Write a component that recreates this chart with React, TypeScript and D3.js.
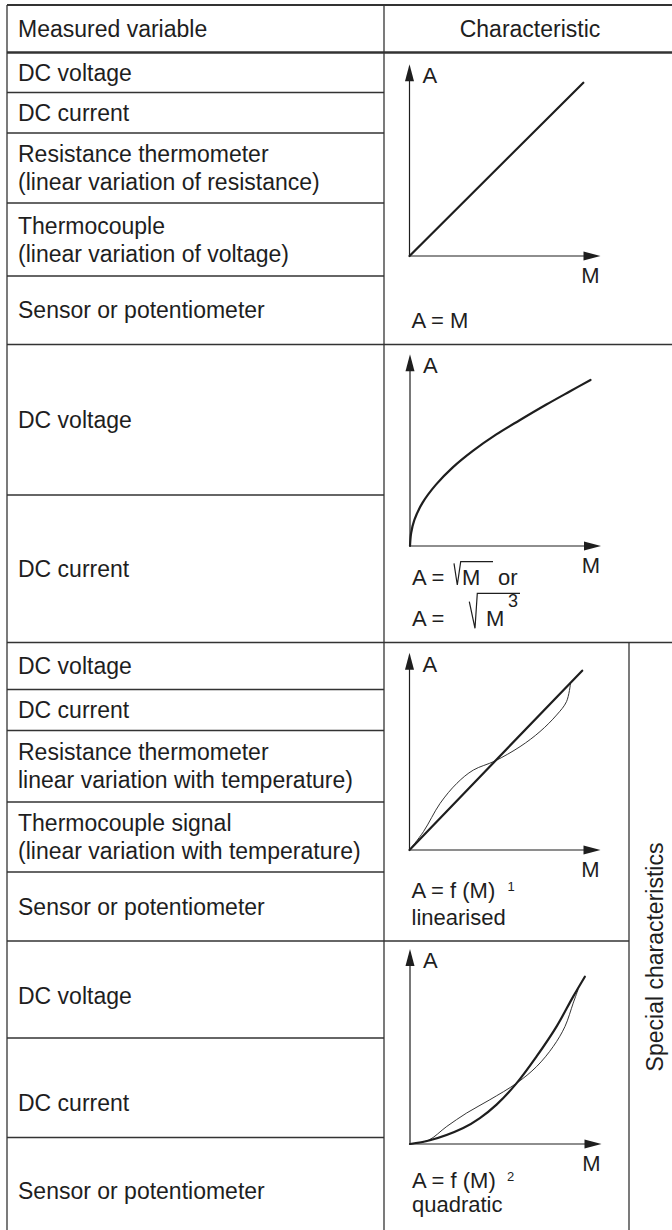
import React from 'react';
import * as d3 from 'd3';

// ---- data ----
const headerLabels = ['Measured variable', 'Characteristic'];
const sideLabel = 'Special characteristics';

const section1Labels = [
  'DC voltage',
  'DC current',
  'Resistance thermometer\n(linear variation of resistance)',
  'Thermocouple\n(linear variation of voltage)',
  'Sensor or potentiometer',
];
const section2Labels = ['DC voltage', 'DC current'];
const section3Labels = [
  'DC voltage',
  'DC current',
  'Resistance thermometer\nlinear variation with temperature)',
  'Thermocouple signal\n(linear variation with temperature)',
  'Sensor or potentiometer',
];
const section4Labels = ['DC voltage', 'DC current', 'Sensor or potentiometer'];

// characteristic curves, [M, A] in % of the axis length
const linearLine = [[0, 0], [91, 90.4]];
const rootCurve = [
  [0, 0], [0.6, 6.8], [2.3, 13.6], [6.6, 22.6], [13.6, 32.0], [22.4, 41.0],
  [32.9, 49.6], [45.2, 58.2], [57.4, 65.6], [71.4, 73.8], [83.6, 80.6], [94.5, 86.6],
];
const linearisedLine = [[0, 0], [90.4, 90.9]];
const linearisedRaw = [
  [0, 0], [7.3, 9.3], [16.0, 23.6], [24.8, 33.8], [33.4, 40.5], [44.7, 45.1],
  [57.9, 52.4], [68.3, 60.0], [77.0, 68.4], [82.2, 75.2], [84.3, 84.4],
];
const quadraticLine = [
  [0, 0], [10.4, 1.9], [27.8, 8.2], [36.5, 13.3], [45.2, 20.2], [55.7, 31.2],
  [66.1, 44.9], [76.5, 60.2], [85.2, 75.6], [91.3, 85.8],
];
const quadraticRaw = [
  [0, 0], [9.6, 1.9], [19.2, 9.0], [29.6, 15.9], [41.7, 22.7], [55.7, 31.2],
  [66.1, 39.7], [74.8, 50.0], [80.9, 60.2], [85.2, 72.2], [87.8, 79.3],
];

const formula1 = 'A = M';
const formula2 = ['A =', 'M', 'or', 'M', '3'];
const formula3 = ['A = f (M)', '1', 'linearised'];
const formula4 = ['A = f (M)', '2', 'quadratic'];

// ---- layout ----
const FONT = '"Liberation Sans", Arial, Helvetica, sans-serif';
const INK = '#1e1e1e';
const RULE = '#333';
const LEFT = 7;
const COL = 384;
const SIDE = 629;
const RIGHT = 672;

const sections = [
  { labels: section1Labels, edges: [52.5, 92.5, 133, 203, 276, 344.5], shift: [0, 0, 0, 0, 0] },
  { labels: section2Labels, edges: [344.5, 495, 642.5], shift: [0, 0] },
  { labels: section3Labels, edges: [642.5, 689.5, 730.5, 802, 872, 941], shift: [0, 0, 0, 0, 0] },
  { labels: section4Labels, edges: [941, 1038, 1137.5, 1245], shift: [6, 15, 0] },
];

const graphs = [
  { ox: 409.5, oy: 256, w: 191, h: 191.7 },
  { ox: 410, oy: 546, w: 191, h: 191.7 },
  { ox: 409.5, oy: 850, w: 191, h: 197.3 },
  { ox: 410, oy: 1144, w: 191.5, h: 195 },
];

const RowLabel = ({ text, top, bottom, shift }) => {
  const lines = text.split('\n');
  const c = (top + bottom) / 2 + shift;
  const ys = lines.length === 1 ? [c + 8] : [c - 6, c + 22];
  return (
    <g>
      {lines.map((l, i) => (
        <text key={i} x={18} y={ys[i]}>{l}</text>
      ))}
    </g>
  );
};

const Graph = ({ g, thick, thin, children }) => {
  const x = d3.scaleLinear().domain([0, 100]).range([g.ox, g.ox + g.w]);
  const y = d3.scaleLinear().domain([0, 100]).range([g.oy, g.oy - g.h]);
  const line = d3.line<number[]>()
    .x(d => x(d[0]))
    .y(d => y(d[1]))
    .curve(d3.curveCatmullRom.alpha(0.5));
  const tipX = x(100);
  const tipY = y(100);
  return (
    <g>
      <line x1={x(0)} y1={y(0)} x2={tipX - 14} y2={y(0)} stroke={INK} strokeWidth={1.2} />
      <line x1={x(0)} y1={y(0)} x2={x(0)} y2={tipY + 14} stroke={INK} strokeWidth={1.2} />
      <path d={`M${tipX},${y(0)}L${tipX - 17},${y(0) - 4.5}L${tipX - 17},${y(0) + 4.5}Z`} fill={INK} />
      <path d={`M${x(0)},${tipY}L${x(0) - 4.5},${tipY + 17}L${x(0) + 4.5},${tipY + 17}Z`} fill={INK} />
      <text x={x(0) + 13} y={tipY + 19}>A</text>
      <text x={tipX - 1} y={y(0) + 27} textAnchor="end">M</text>
      {thin && <path d={line(thin)} fill="none" stroke={INK} strokeWidth={0.9} />}
      <path d={line(thick)} fill="none" stroke={INK} strokeWidth={2.2} strokeLinecap="round" />
      {children}
    </g>
  );
};

export default function App() {
  const [g1, g2, g3, g4] = graphs;
  return (
    <svg width={672} height={1230} style={{ position: 'absolute', left: 0, top: 0, background: '#fff' }}
      fontFamily={FONT} fontSize={23} fill={INK}>
      <rect width={672} height={1230} fill="#fff" />
      {/* header */}
      <text x={18} y={36.5}>{headerLabels[0]}</text>
      <text x={530} y={36.5} textAnchor="middle">{headerLabels[1]}</text>

      {/* row labels */}
      {sections.map((s, si) =>
        s.labels.map((t, i) => (
          <RowLabel key={`${si}-${i}`} text={t} top={s.edges[i]} bottom={s.edges[i + 1]} shift={s.shift[i]} />
        ))
      )}

      {/* rules */}
      <g stroke={RULE} strokeWidth={1.3}>
        <line x1={LEFT} x2={RIGHT} y1={5} y2={5} strokeWidth={1.8} />
        <line x1={LEFT} x2={LEFT} y1={5} y2={1230} />
        <line x1={COL} x2={COL} y1={5} y2={1230} />
        <line x1={LEFT} x2={RIGHT} y1={52.5} y2={52.5} strokeWidth={2.6} />
        <line x1={LEFT} x2={RIGHT} y1={344.5} y2={344.5} />
        <line x1={LEFT} x2={RIGHT} y1={642.5} y2={642.5} />
        <line x1={LEFT} x2={SIDE} y1={941} y2={941} />
        <line x1={SIDE} x2={SIDE} y1={642.5} y2={1230} />
        {sections.map((s, si) =>
          s.edges.slice(1, -1).map((e, i) => (
            <line key={`r${si}-${i}`} x1={LEFT} x2={COL} y1={e} y2={e} />
          ))
        )}
      </g>

      {/* graphs */}
      <g fontSize={22}>
        <Graph g={g1} thick={linearLine}>
          <text x={g1.ox + 2} y={g1.oy + 72}>{formula1}</text>
        </Graph>

        <Graph g={g2} thick={rootCurve}>
          <text x={g2.ox + 2} y={g2.oy + 39}>{formula2[0]}</text>
          <path d={`M${g2.ox + 44},${g2.oy + 17.3}L${g2.ox + 47.3},${g2.oy + 39}L${g2.ox + 50.7},${g2.oy + 15.7}H${g2.ox + 83}`}
            fill="none" stroke={INK} strokeWidth={1.2} />
          <text x={g2.ox + 52} y={g2.oy + 39}>{formula2[1]}</text>
          <text x={g2.ox + 88} y={g2.oy + 39}>{formula2[2]}</text>
          <text x={g2.ox + 2} y={g2.oy + 80}>{formula2[0]}</text>
          <path d={`M${g2.ox + 59.3},${g2.oy + 55.7}L${g2.ox + 65},${g2.oy + 82.3}L${g2.ox + 67.3},${g2.oy + 47.3}H${g2.ox + 110}`}
            fill="none" stroke={INK} strokeWidth={1.2} />
          <text x={g2.ox + 76} y={g2.oy + 80}>{formula2[3]}</text>
          <text x={g2.ox + 98} y={g2.oy + 61} fontSize={18}>{formula2[4]}</text>
        </Graph>

        <Graph g={g3} thick={linearisedLine} thin={linearisedRaw}>
          <text x={g3.ox + 2} y={g3.oy + 48}>{formula3[0]}</text>
          <text x={g3.ox + 98} y={g3.oy + 41} fontSize={13}>{formula3[1]}</text>
          <text x={g3.ox + 2} y={g3.oy + 75}>{formula3[2]}</text>
        </Graph>

        <Graph g={g4} thick={quadraticLine} thin={quadraticRaw}>
          <text x={g4.ox + 2} y={g4.oy + 44}>{formula4[0]}</text>
          <text x={g4.ox + 97} y={g4.oy + 37} fontSize={13}>{formula4[1]}</text>
          <text x={g4.ox + 2} y={g4.oy + 68}>{formula4[2]}</text>
        </Graph>
      </g>

      <text transform="translate(663,957) rotate(-90)" textAnchor="middle">{sideLabel}</text>
    </svg>
  );
}
